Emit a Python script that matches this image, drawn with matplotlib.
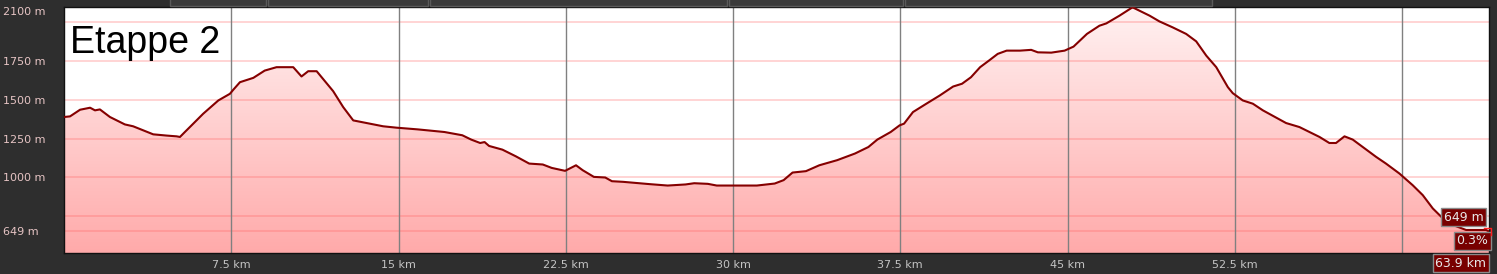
import numpy as np
import matplotlib
matplotlib.use("Agg")
import matplotlib.pyplot as plt
from matplotlib.patches import Rectangle
from matplotlib.colors import LinearSegmentedColormap

# elevation profile (km, m)
km = [0.0, 0.27, 0.72, 1.17, 1.39, 1.61, 2.06, 2.73, 3.1, 4.0, 4.6, 5.05, 5.2, 5.42,
      5.72, 6.24, 6.92, 7.44, 7.59, 7.89, 8.49, 9.0, 9.53, 10.28, 10.65, 10.95, 11.33,
      12.07, 12.52, 12.97, 13.57, 14.31, 14.91, 15.86, 17.06, 17.86, 18.26, 18.66,
      18.86, 19.06, 19.66, 20.26, 20.86, 21.47, 21.87, 22.47, 22.96, 23.26, 23.76,
      24.27, 24.57, 25.07, 26.27, 27.07, 27.87, 28.26, 28.87, 29.27, 31.07, 31.87,
      32.27, 32.67, 33.27, 33.87, 34.67, 35.47, 36.07, 36.47, 37.07, 37.47, 37.67,
      38.07, 38.67, 39.27, 39.87, 40.27, 40.67, 41.08, 41.48, 41.87, 42.27, 42.87,
      43.37, 43.67, 44.27, 44.87, 45.27, 45.87, 46.43, 46.74, 47.33, 47.86, 47.93,
      48.68, 49.12, 49.72, 50.32, 50.77, 51.22, 51.67, 52.19, 52.41, 52.86, 53.31,
      53.76, 54.8, 55.4, 56.3, 56.74, 57.04, 57.42, 57.79, 58.24, 58.84, 59.28,
      59.88, 60.48, 60.93, 61.38, 61.83, 62.28, 62.87, 63.17, 63.77, 63.9]
elev = [1389, 1393, 1436, 1449, 1432, 1438, 1389, 1341, 1329, 1277, 1269, 1264, 1260, 1292,
        1335, 1410, 1496, 1539, 1565, 1614, 1642, 1689, 1711, 1711, 1651, 1685, 1685,
        1556, 1453, 1367, 1350, 1329, 1320, 1309, 1292, 1271, 1243, 1221,
        1227, 1202, 1178, 1135, 1088, 1082, 1060, 1041, 1077, 1045, 1002,
        998, 974, 970, 955, 946, 953, 961, 957, 946, 946, 959,
        981, 1030, 1039, 1077, 1110, 1153, 1195, 1243, 1292, 1335, 1346,
        1421, 1475, 1528, 1586, 1604, 1646, 1711, 1754, 1797, 1818, 1818,
        1823, 1807, 1805, 1818, 1844, 1926, 1979, 1994, 2044, 2093, 2097,
        2044, 2007, 1968, 1926, 1878, 1786, 1711, 1582, 1543, 1496, 1475,
        1432, 1350, 1324, 1260, 1221, 1221, 1264, 1243, 1195, 1131, 1088,
        1024, 948, 884, 798, 734, 691, 659, 659, 659, 649]

y_ticks = [2100, 1750, 1500, 1250, 1000, 649]
y_grid = [2000, 1750, 1500, 1250, 1000, 750, 649]
x_grid = [7.5, 15, 22.5, 30, 37.5, 45, 52.5, 60]
x_labels = ["7.5 km", "15 km", "22.5 km", "30 km", "37.5 km", "45 km", "52.5 km"]
title = "Etappe 2"
total_km = 63.9
end_grade = "0.3%"

bg = "#2e2e2e"
fig = plt.figure(figsize=(14.97, 2.74), dpi=100, facecolor=bg)
ax = fig.add_axes([64 / 1497, 21 / 274, 1425 / 1497, 246 / 274])
ax.set_facecolor("white")
ax.set_xlim(0, total_km)
ax.set_ylim(510, 2100)

# vertical gradient fill under the profile
cmap = LinearSegmentedColormap.from_list("pinkfade", ["#ffaaaa", "#fff2f2"])
grad = np.linspace(0, 1, 256).reshape(-1, 1)
img = ax.imshow(grad, cmap=cmap, aspect="auto", origin="lower",
                extent=[0, total_km, 510, 2100], zorder=1)
poly = ax.fill_between(km, elev, 510, color="none")
img.set_clip_path(poly.get_paths()[0], transform=ax.transData)

for g in y_grid:
    ax.axhline(g, color=(1, 0.35, 0.35, 0.3), lw=1.2, zorder=2)
for g in x_grid:
    ax.axvline(g, color="#808080", lw=1, zorder=2)

ax.plot(km, elev, color="#850000", lw=1.5, zorder=3)

ax.set_xticks(x_grid[:-1])
ax.set_xticklabels(x_labels, color="#c4c4c4", fontsize=8)
ax.set_yticks(y_ticks)
ax.set_yticklabels([f"{v} m" for v in y_ticks], color="#e6c4c4", fontsize=8, ha="left")
ax.tick_params(axis="y", length=0, pad=44)
ax.tick_params(axis="x", length=0, pad=5)
ax.get_yticklabels()[0].set_va("top")
for s in ax.spines.values():
    s.set_color("#111111")
    s.set_linewidth(1)

ax.text(0.004, 0.925, title, transform=ax.transAxes, fontsize=27,
        family="Liberation Sans", color="black", va="top", ha="left", zorder=5)

# end-point boxes
box = dict(boxstyle="square,pad=0.2", facecolor="#780000", edgecolor="#8a8a8a", lw=1)
ax.text(0.996, 0.146, f"{elev[-1]} m", transform=ax.transAxes, fontsize=9,
        color="#e8e8e8", ha="right", va="center", bbox=box, zorder=6)
ax.text(0.9995, 0.049, end_grade, transform=ax.transAxes, fontsize=9,
        color="#e8e8e8", ha="right", va="center", bbox=box, zorder=6, clip_on=False)
ax.text(0.998, -0.042, f"{total_km} km", transform=ax.transAxes, fontsize=9,
        color="#e8e8e8", ha="right", va="center", bbox=box, zorder=6, clip_on=False)
ax.plot([0.9965, 1.0015, 1.0015], [0.1, 0.1, 0.075], transform=ax.transAxes,
        color="#ff2020", lw=1, clip_on=False, zorder=7)

# cut-off header boxes along the top edge
for x0, x1 in [(170, 266), (268, 428), (430, 727), (729, 903), (905, 1212)]:
    fig.patches.append(Rectangle((x0 / 1497, 268 / 274), (x1 - x0) / 1497, 8 / 274,
                                 transform=fig.transFigure, facecolor="#3a3a3a",
                                 edgecolor="#5a5a5a", lw=1))

fig.savefig("out.png", dpi=100, facecolor=bg)
